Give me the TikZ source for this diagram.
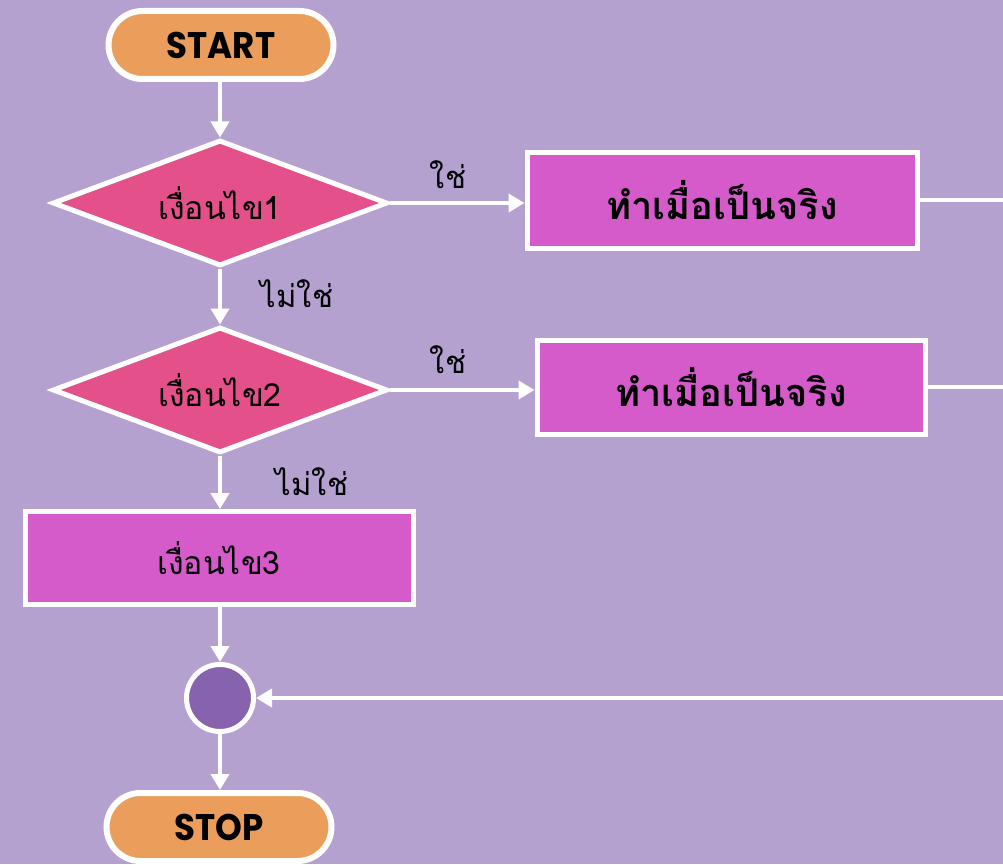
\documentclass[tikz,border=0pt]{standalone}
\usepackage{fontspec}
\newfontfamily\thai[Script=Thai]{Loma}
\newfontfamily\head{Poppins}
\usetikzlibrary{shapes.geometric,arrows.meta}
\definecolor{bgc}{RGB}{180,161,208}
\definecolor{orangec}{RGB}{235,157,91}
\definecolor{diac}{RGB}{228,80,138}
\definecolor{boxc}{RGB}{213,90,202}
\definecolor{circc}{RGB}{135,99,174}
\tikzset{
  term/.style={draw=white,line width=6pt,fill=orangec,rounded corners=34pt,minimum width=225pt,minimum height=68pt,inner sep=0pt,font=\head\bfseries\fontsize{37}{40}\selectfont},
  cond/.style={diamond,draw=white,line width=5pt,fill=diac,minimum width=335pt,minimum height=126pt,aspect=2.6,inner sep=0pt,font=\thai\fontsize{32}{34}\selectfont},
  proc/.style={draw=white,line width=5pt,fill=boxc,inner sep=0pt,font=\thai\fontsize{32}{34}\selectfont},
  procb/.style={proc,font=\thai\bfseries\fontsize{38}{40}\selectfont},
  joinc/.style={circle,draw=white,line width=5pt,fill=circc,minimum size=67pt,inner sep=0pt},
  conn/.style={draw=white,line width=4pt,-{Triangle[length=16pt,width=18pt]}},
  plain/.style={draw=white,line width=4pt},
  lbl/.style={font=\thai\fontsize{31}{33}\selectfont,text=black}
}
\begin{document}
\begin{tikzpicture}[x=1pt,y=-1pt]
\useasboundingbox (0,0) rectangle (1003,864);
\clip (0,0) rectangle (1003,864);
\fill[bgc] (0,0) rectangle (1003,864);
\node[term] (start) at (221,45) {\scalebox{0.92}[1]{START}};
\node[cond] (d1) at (220,203) {เงื่อนไข1};
\node[procb,minimum width=390pt,minimum height=96pt] (b1) at (722,200) {ทำเมื่อเป็นจริง};
\node[cond] (d2) at (220,390) {เงื่อนไข2};
\node[procb,minimum width=388pt,minimum height=94pt] (b2) at (731,387) {ทำเมื่อเป็นจริง};
\node[proc,minimum width=388pt,minimum height=93pt] (b3) at (219,558) {เงื่อนไข3};
\node[joinc] (m) at (220,698) {};
\node[term] (stop) at (219,827) {\scalebox{0.92}[1]{STOP}};
\coordinate (r1) at (1015,200);
\coordinate (r3) at (1015,698);
\draw[conn] (start.south -| d1.north) -- (d1.north);
\draw[conn] (d1.east) -- (d1.east -| b1.west);
\draw[conn] (d1.south) -- (d2.north);
\draw[conn] (d2.east) -- (d2.east -| b2.west);
\draw[conn] (d2.south) -- (d2.south |- b3.north);
\draw[conn] (b3.south -| m.north) -- (m.north);
\draw[conn] (m.south) -- (m.south |- stop.north);
\draw[plain] (b1.east) -- (b1.east -| r1) -- (r3);
\draw[plain] (b2.east) -- (b2.east -| r1);
\draw[conn] (r3) -- (m.east);
\node[lbl] (y1) at (448,175) {ใช่};
\node[lbl] (n1) at (297,294) {ไม่ใช่};
\node[lbl] (y2) at (448,360) {ใช่};
\node[lbl] (n2) at (312,482) {ไม่ใช่};
\end{tikzpicture}
\end{document}
